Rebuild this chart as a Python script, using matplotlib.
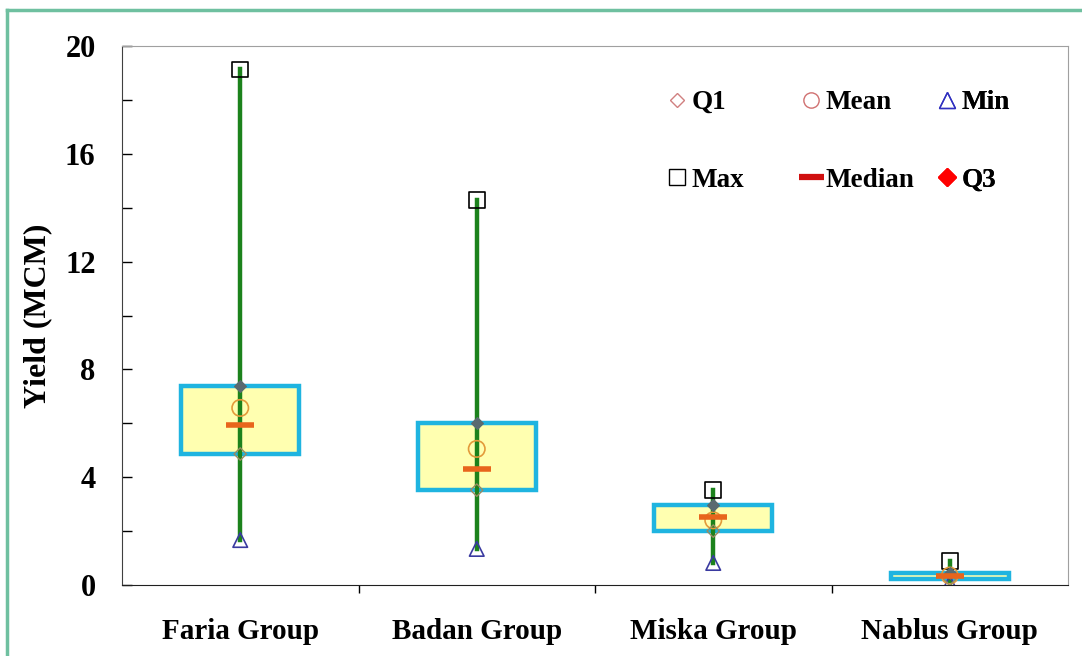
import matplotlib.pyplot as plt
from matplotlib.lines import Line2D
from matplotlib.patches import Rectangle

# groups and summary stats of yield (MCM)
groups = ["Faria Group", "Badan Group", "Miska Group", "Nablus Group"]
y_min = [1.67, 1.34, 0.82, 0.07]
y_q1 = [4.86, 3.52, 2.00, 0.22]
y_median = [5.94, 4.30, 2.52, 0.33]
y_mean = [6.57, 5.05, 2.40, 0.35]
y_q3 = [7.38, 6.01, 2.97, 0.45]
y_max = [19.13, 14.29, 3.52, 0.89]

plt.rcParams['font.family'] = ['Liberation Serif', 'DejaVu Serif']
plt.rcParams['font.weight'] = 'bold'

fig = plt.figure(figsize=(10.82, 6.56), dpi=100)
ax = fig.add_axes([122 / 1082, 1 - 585 / 656, 946 / 1082, 539 / 656])

box_w = 0.5
for i in range(len(groups)):
    # box between Q1 and Q3
    ax.add_patch(Rectangle((i - box_w / 2, y_q1[i]), box_w, y_q3[i] - y_q1[i],
                           facecolor='#FFFFB0', edgecolor='#1FB4E0', linewidth=3.2, zorder=2))
    # whisker from min to max
    ax.plot([i, i], [y_min[i], y_max[i]], color='#1C821C', linewidth=3.2, zorder=3)

x = list(range(len(groups)))
ax.scatter(x, y_max, marker='s', s=130, facecolor='none', edgecolor='black', linewidth=1.2, zorder=4)
ax.scatter(x, y_min, marker='^', s=110, facecolor='none', edgecolor='#3A3AA0', linewidth=1.2, zorder=4)
ax.scatter(x, y_mean, marker='o', s=140, facecolor='none', edgecolor='#E39A3A', linewidth=1.2, zorder=4)
ax.scatter(x, y_q1, marker='D', s=40, facecolor='none', edgecolor='#9A8A60', linewidth=1.0, zorder=4)
ax.scatter(x, y_q3, marker='D', s=35, facecolor='#5A6A70', edgecolor='#5A6A70', linewidth=1.0, zorder=4)
ax.scatter(x, y_median, marker='_', s=420, color='#E8651C', linewidth=4, zorder=5)

ax.set_xlim(-0.5, 3.5)
ax.set_ylim(0, 20)
ax.set_yticks(range(0, 21, 4))
ax.set_yticks(range(0, 21, 2), minor=True)
ax.set_xticks([0.5, 1.5, 2.5], minor=True)
ax.set_xticks(x)
ax.set_xticklabels(groups, fontsize=21, fontweight='bold')
ax.tick_params(axis='x', which='major', length=0, pad=24)
ax.tick_params(axis='x', which='minor', direction='out', length=6, width=1)
ax.tick_params(axis='y', which='both', direction='in', length=7, width=1, labelsize=22, pad=19)
for lbl in ax.get_yticklabels():
    lbl.set_fontweight('bold')
ax.set_ylabel("Yield (MCM)", fontsize=23, fontweight='bold', labelpad=9)

for side in ['top', 'right']:
    ax.spines[side].set_color('#A0A0A0')
ax.spines['left'].set_color('#404040')
ax.spines['bottom'].set_color('#202020')

# legend: three columns placed separately
legend_cols = [
    ([Line2D([], [], ls='none', marker='D', ms=7, mfc='none', mec='#D08080', label='Q1'),
      Line2D([], [], ls='none', marker='s', ms=11, mfc='none', mec='black', label='Max')], 666),
    ([Line2D([], [], ls='none', marker='o', ms=11, mfc='none', mec='#D07070', label='Mean'),
      Line2D([], [], ls='none', marker='_', ms=18, mew=4.5, color='#D01010', label='Median')], 800),
    ([Line2D([], [], ls='none', marker='^', ms=11, mfc='none', mec='#3030C0', label='Min'),
      Line2D([], [], ls='none', marker='D', ms=9, mfc='red', mec='red', label='Q3')], 936),
]
for handles, x0 in legend_cols:
    leg = ax.legend(handles=handles, loc='upper left',
                    bbox_to_anchor=(x0 / 1082, 1 - 90 / 656), bbox_transform=fig.transFigure,
                    frameon=False, prop={'size': 19.5, 'weight': 'bold'}, labelspacing=1.95,
                    handlelength=0.8, handletextpad=0.15, borderpad=0, borderaxespad=0)
    ax.add_artist(leg)

# outer frame line on the top and left
fig.add_artist(Line2D([7 / 1082, 7 / 1082], [0, 1 - 10 / 656], color='#6FC0A0', lw=2.5))
fig.add_artist(Line2D([7 / 1082, 1], [1 - 10 / 656, 1 - 10 / 656], color='#6FC0A0', lw=2.5))

fig.savefig("out.png", dpi=100)
